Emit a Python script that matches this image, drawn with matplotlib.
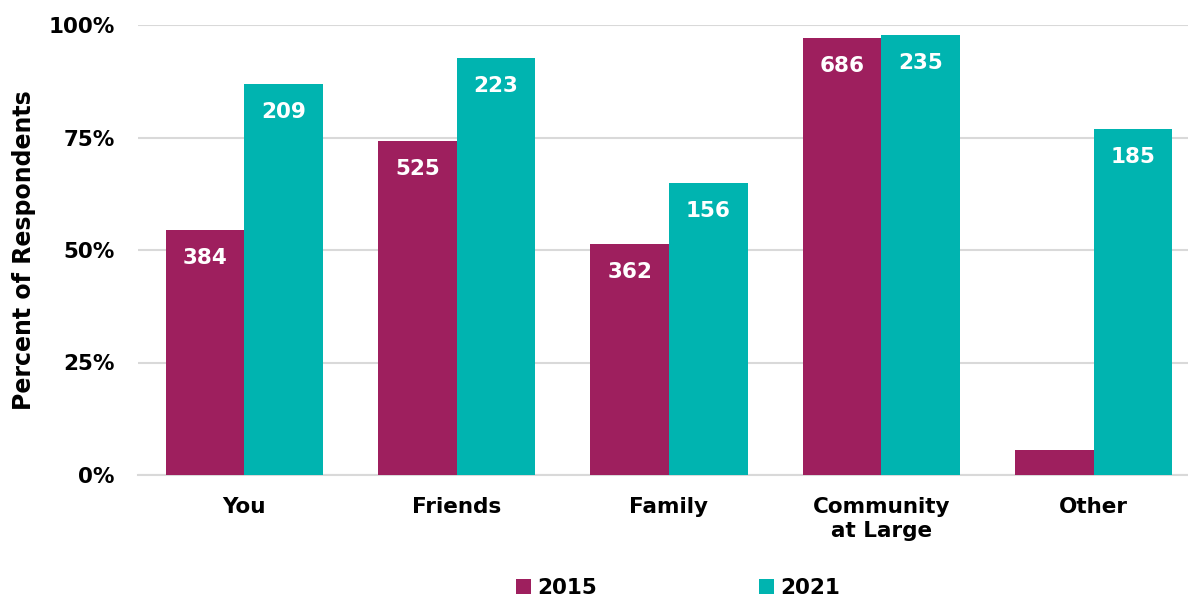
import numpy as np
import matplotlib.pyplot as plt

categories = ["You", "Friends", "Family", "Community\nat Large", "Other"]
pct_2015 = [54.4, 74.2, 51.3, 97.1, 5.6]
pct_2021 = [86.9, 92.7, 64.9, 97.8, 76.9]
n_2015 = ["384", "525", "362", "686", ""]
n_2021 = ["209", "223", "156", "235", "185"]
yticks = [0, 25, 50, 75, 100]
ytick_labels = ["0%", "25%", "50%", "75%", "100%"]

c2015 = "#9E1F5E"
c2021 = "#00B4B0"

plt.rcParams['font.family'] = ['DejaVu Sans']
plt.rcParams['font.weight'] = 'bold'

fig = plt.figure(figsize=(11.88, 5.99), dpi=100)
ax = fig.add_axes([138/1188, 1-475/599, 1-138/1188, 450/599])

x = np.arange(len(categories))
w = 0.37
b1 = ax.bar(x - w/2, pct_2015, w, color=c2015, label="2015", zorder=3)
b2 = ax.bar(x + w/2, pct_2021, w, color=c2021, label="2021", zorder=3)

for bars, labs in [(b1, n_2015), (b2, n_2021)]:
    for bar, lab in zip(bars, labs):
        if lab:
            ax.annotate(lab, (bar.get_x() + bar.get_width()/2, bar.get_height()),
                        xytext=(0, -20), textcoords='offset points',
                        ha='center', va='center', color='white',
                        fontsize=15.5, fontweight='bold', zorder=4)

ax.set_xlim(-0.5, 4.5 - 12/212.5)
ax.set_ylim(0, 100)
ax.set_yticks(yticks)
ax.set_yticklabels(ytick_labels)
ax.set_xticks(x)
ax.set_xticklabels(categories, linespacing=1.25)
ax.tick_params(axis='both', length=0, labelsize=15.5, colors='black')
ax.tick_params(axis='x', pad=16)
ax.tick_params(axis='y', pad=17)
ax.yaxis.grid(True, color='#D9D9D9', linewidth=1.5, zorder=0)
for s in ['top', 'right', 'left']:
    ax.spines[s].set_visible(False)
ax.spines['bottom'].set_color('#D9D9D9')
ax.spines['bottom'].set_linewidth(1.5)
ax.set_ylabel("Percent of Respondents", fontsize=17, fontweight='bold')
ax.yaxis.set_label_coords(-(138 - 36)/1050, 0.5)

fig.legend(loc='center', bbox_to_anchor=(678/1188, 1-588/599), ncol=2, frameon=False,
           fontsize=15.5, handlelength=0.7, handleheight=0.7, handletextpad=0.3,
           columnspacing=7.5)

fig.savefig("out.png", dpi=100)
